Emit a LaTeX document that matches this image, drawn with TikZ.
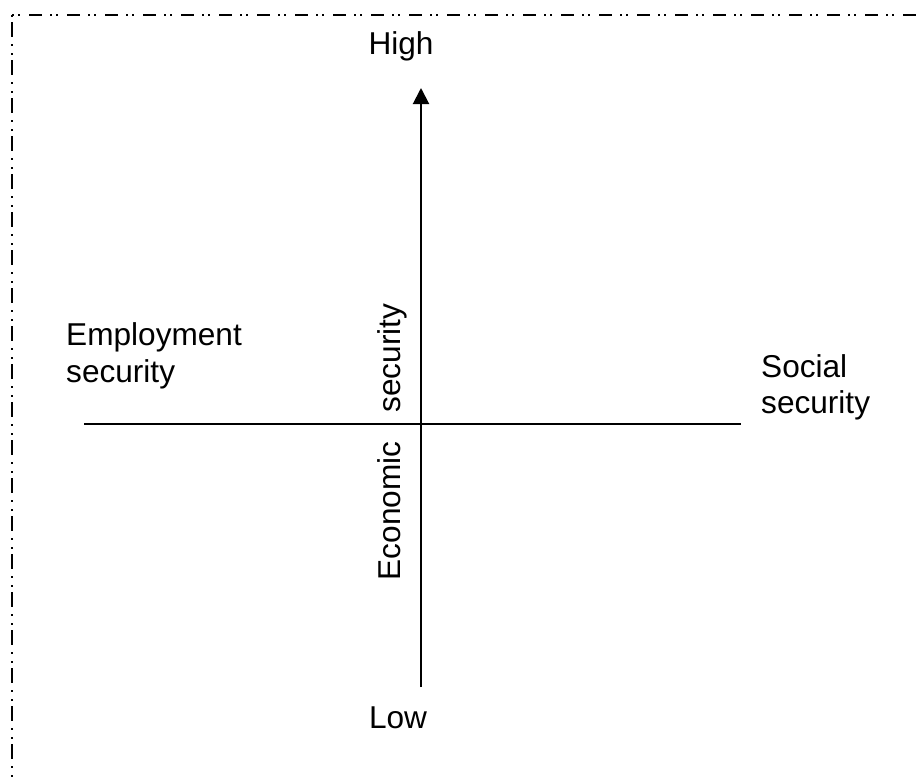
\documentclass[tikz,border=0pt]{standalone}
\usepackage{fontspec}
\setmainfont{Liberation Sans}
\usetikzlibrary{arrows.meta}
\begin{document}
\begin{tikzpicture}[x=1pt,y=-1pt,
  lbl/.style={inner sep=0pt, font=\fontsize{31.6}{37}\selectfont},
  axisline/.style={line width=2pt},
  frametop/.style={line width=2pt, dash pattern=on 2pt off 4pt on 2pt off 9pt on 13pt off 8pt},
  frameleft/.style={line width=2pt, dash pattern=on 2pt off 5pt on 15pt off 7pt on 2pt off 7pt}]
\useasboundingbox (0,0) rectangle (924,780);
% frame (only top and left edges visible)
\coordinate (corner) at (12,15);
\coordinate (frameR) at (930,15);
\coordinate (frameB) at (12,790);
\draw[frametop] (corner) -- (frameR);
\draw[frameleft] (corner) -- (frameB);
% axes
\coordinate (hL) at (84,424);
\coordinate (hR) at (741,424);
\coordinate (vB) at (421,687);
\coordinate (vT) at (421,88);
\draw[axisline] (hL) -- (hR);
\draw[axisline,-{Triangle[length=16pt,width=16pt]}] (vB) -- (vT);
% labels
\node[lbl, anchor=base] (high) at (401,54) {High};
\node[lbl, anchor=base] (low) at (398,728) {Low};
\node[lbl, anchor=base west] (emp) at (66,345) {Employment};
\node[lbl, anchor=base west] (emp2) at (66,382) {security};
\node[lbl, anchor=base west] (soc) at (761,377) {Social};
\node[lbl, anchor=base west] (soc2) at (761,413) {security};
\node[lbl, anchor=base, rotate=90] (econ) at (400,511) {Economic};
\node[lbl, anchor=base, rotate=90] (sec) at (400,358) {security};
\end{tikzpicture}
\end{document}
